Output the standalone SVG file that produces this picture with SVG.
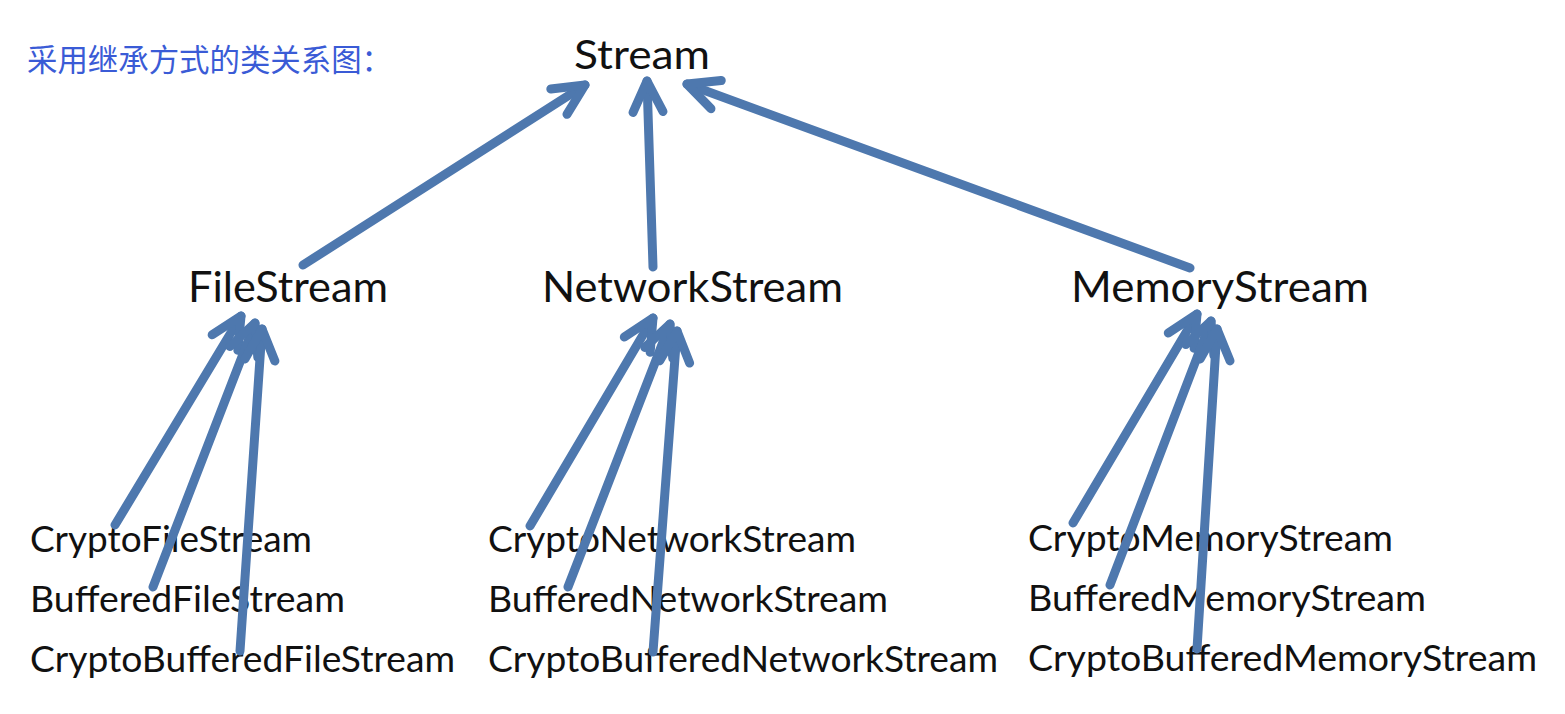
<svg xmlns="http://www.w3.org/2000/svg" width="1565" height="714" viewBox="0 0 1565 714">
  <style>
    .t { font-family: Lato, "Open Sans", "Liberation Sans", sans-serif; fill: #111; }
    .l1 { font-size: 41px; }
    .l2 { font-size: 42px; }
    .l3 { font-size: 36px; }
    .title { font-family: "Noto Sans CJK SC", "Noto Sans", sans-serif; font-size: 31px; fill: #3a5bd6; }
    .c { stroke: #4e78ae; stroke-width: 9; fill: none; stroke-linecap: round; marker-end: url(#head); }
  </style>
  <defs>
    <marker id="head" markerUnits="userSpaceOnUse" orient="auto" refX="0" refY="0" markerWidth="80" markerHeight="80" viewBox="-40 -40 80 80" overflow="visible">
      <path d="M-31,-15 L0,0 L-31,15" fill="none" stroke="#4e78ae" stroke-width="9" stroke-linecap="round" stroke-linejoin="round"/>
    </marker>
  </defs>
  <rect width="1565" height="714" fill="#ffffff"/>

  <text class="title" x="27" y="71" textLength="365" lengthAdjust="spacingAndGlyphs">采用继承方式的类关系图：</text>

  <g id="stream"><text class="t l1" x="574" y="69" textLength="136" lengthAdjust="spacingAndGlyphs">Stream</text></g>
  <g id="filestream"><text class="t l2" x="188" y="302" textLength="200" lengthAdjust="spacingAndGlyphs">FileStream</text></g>
  <g id="networkstream"><text class="t l2" x="542" y="302" textLength="301" lengthAdjust="spacingAndGlyphs">NetworkStream</text></g>
  <g id="memorystream"><text class="t l2" x="1071" y="302" textLength="298" lengthAdjust="spacingAndGlyphs">MemoryStream</text></g>

  <g id="cryptofilestream"><text class="t l3" x="30" y="552" textLength="282" lengthAdjust="spacingAndGlyphs">CryptoFileStream</text></g>
  <g id="bufferedfilestream"><text class="t l3" x="30" y="612" textLength="315" lengthAdjust="spacingAndGlyphs">BufferedFileStream</text></g>
  <g id="cryptobufferedfilestream"><text class="t l3" x="30" y="672" textLength="425" lengthAdjust="spacingAndGlyphs">CryptoBufferedFileStream</text></g>

  <g id="cryptonetworkstream"><text class="t l3" x="488" y="552" textLength="368" lengthAdjust="spacingAndGlyphs">CryptoNetworkStream</text></g>
  <g id="bufferednetworkstream"><text class="t l3" x="488" y="612" textLength="400" lengthAdjust="spacingAndGlyphs">BufferedNetworkStream</text></g>
  <g id="cryptobufferednetworkstream"><text class="t l3" x="488" y="672" textLength="510" lengthAdjust="spacingAndGlyphs">CryptoBufferedNetworkStream</text></g>

  <g id="cryptomemorystream"><text class="t l3" x="1028" y="551" textLength="365" lengthAdjust="spacingAndGlyphs">CryptoMemoryStream</text></g>
  <g id="bufferedmemorystream"><text class="t l3" x="1028" y="611" textLength="398" lengthAdjust="spacingAndGlyphs">BufferedMemoryStream</text></g>
  <g id="cryptobufferedmemorystream"><text class="t l3" x="1028" y="671" textLength="509" lengthAdjust="spacingAndGlyphs">CryptoBufferedMemoryStream</text></g>

  <g id="connectors">
    <line class="c" x1="303" y1="265" x2="585" y2="85"/>
    <line class="c" x1="653" y1="267" x2="647" y2="81"/>
    <line class="c" x1="1190" y1="268" x2="687" y2="84"/>

    <line class="c" x1="115" y1="525" x2="241" y2="316"/>
    <line class="c" x1="153" y1="587" x2="255" y2="323"/>
    <line class="c" x1="240" y1="651" x2="262" y2="329"/>

    <line class="c" x1="530" y1="526" x2="653" y2="318"/>
    <line class="c" x1="568" y1="587" x2="670" y2="324"/>
    <line class="c" x1="653" y1="652" x2="677" y2="331"/>

    <line class="c" x1="1073" y1="523" x2="1197" y2="314"/>
    <line class="c" x1="1110" y1="585" x2="1211" y2="321"/>
    <line class="c" x1="1197" y1="649" x2="1217" y2="329"/>
  </g>
</svg>
